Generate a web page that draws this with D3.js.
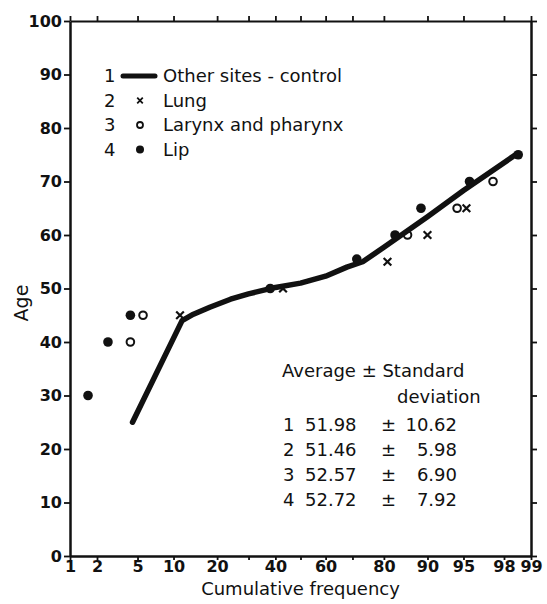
<!DOCTYPE html>
<html>
<head>
<meta charset="utf-8">
<script src="https://cdn.jsdelivr.net/npm/d3@7"></script>
<style>
  body { margin: 0; background: #fff; }
  text { font-family: "DejaVu Sans", sans-serif; fill: #111; }
</style>
</head>
<body>
<div id="chart"></div>
<script>
// cumulative frequency (%) ticks on a probability scale
const freqTicks = [1, 2, 5, 10, 20, 30, 40, 50, 60, 70, 80, 90, 95, 98, 99];
const freqLabels = ['1', '2', '5', '10', '20', '', '40', '', '60', '', '80', '90', '95', '98', '99'];
const ageTicks = [0, 10, 20, 30, 40, 50, 60, 70, 80, 90, 100];

// 1 - other sites (control), drawn as a line
const controlFreq = [4.5, 11.6, 14, 18, 24, 30, 40, 50, 60, 68, 73.5, 80, 90, 95, 98.5];
const controlAge = [25, 44, 45.2, 46.5, 48, 49, 50.2, 51, 52.3, 54, 55, 57.7, 63.4, 68.3, 75];
// 2 - lung
const lungFreq = [11.2, 43, 81, 90, 95.3];
const lungAge = [45, 50, 55, 60, 65];
// 3 - larynx and pharynx
const larynxFreq = [4.3, 5.6, 86, 94.3, 97.4];
const larynxAge = [40, 45, 60, 65, 70];
// 4 - lip
const lipFreq = [1.6, 2.6, 4.3, 38, 71.5, 83, 88.8, 95.6, 98.6];
const lipAge = [30, 40, 45, 50, 55.5, 60, 65, 70, 75];

const legendNames = ['Other sites - control', 'Lung', 'Larynx and pharynx', 'Lip'];
const statAvg = ['51.98', '51.46', '52.57', '52.72'];
const statSd = ['10.62', '5.98', '6.90', '7.92'];

const width = 547, height = 604;
const margin = { top: 21, right: 16, bottom: 48, left: 70 };

// inverse normal cdf (Acklam)
function probit(p) {
  const a = [-39.69683028665376, 220.9460984245205, -275.9285104469687, 138.3577518672690, -30.66479806614716, 2.506628277459239];
  const b = [-54.47609879822406, 161.5858368580409, -155.6989798598866, 66.80131188771972, -13.28068155288572];
  const c = [-0.007784894002430293, -0.3223964580411365, -2.400758277161838, -2.549732539343734, 4.374664141464968, 2.938163982698783];
  const d = [0.007784695709041462, 0.3224671290700398, 2.445134137142996, 3.754408661907416];
  const pl = 0.02425;
  let q, r;
  if (p < pl) {
    q = Math.sqrt(-2 * Math.log(p));
    return (((((c[0] * q + c[1]) * q + c[2]) * q + c[3]) * q + c[4]) * q + c[5]) /
      ((((d[0] * q + d[1]) * q + d[2]) * q + d[3]) * q + 1);
  }
  if (p > 1 - pl) {
    q = Math.sqrt(-2 * Math.log(1 - p));
    return -(((((c[0] * q + c[1]) * q + c[2]) * q + c[3]) * q + c[4]) * q + c[5]) /
      ((((d[0] * q + d[1]) * q + d[2]) * q + d[3]) * q + 1);
  }
  q = p - 0.5;
  r = q * q;
  return (((((a[0] * r + a[1]) * r + a[2]) * r + a[3]) * r + a[4]) * r + a[5]) * q /
    (((((b[0] * r + b[1]) * r + b[2]) * r + b[3]) * r + b[4]) * r + 1);
}
const z = f => probit(f / 100);

const svg = d3.select('#chart')
  .append('svg')
  .attr('width', width)
  .attr('height', height);

const x = d3.scaleLinear()
  .domain([z(1), z(99)])
  .range([margin.left, width - margin.right]);

const y = d3.scaleLinear()
  .domain([0, 100])
  .range([height - margin.bottom, margin.top]);

const fx = f => x(z(f));

// axes
const xTickVals = freqTicks.map(z);
const xFmt = (d, i) => freqLabels[i];

svg.append('g')
  .attr('class', 'axis')
  .attr('transform', 'translate(0,' + y(0) + ')')
  .call(d3.axisBottom(x).tickValues(xTickVals).tickFormat(xFmt).tickSize(4).tickSizeOuter(0).tickPadding(1))
  .call(g => g.select('.domain').attr('stroke-width', 2.5));

svg.append('g')
  .attr('class', 'axis')
  .attr('transform', 'translate(0,' + y(100) + ')')
  .call(d3.axisTop(x).tickValues(xTickVals).tickFormat('').tickSize(5).tickSizeOuter(0))
  .call(g => g.select('.domain').attr('stroke-width', 2));

svg.append('g')
  .attr('class', 'axis')
  .attr('transform', 'translate(' + x(z(1)) + ',0)')
  .call(d3.axisLeft(y).tickValues(ageTicks).tickSize(6).tickSizeOuter(0).tickPadding(2))
  .call(g => g.select('.domain').attr('stroke-width', 2.5));

svg.append('g')
  .attr('class', 'axis')
  .attr('transform', 'translate(' + x(z(99)) + ',0)')
  .call(d3.axisRight(y).tickValues(ageTicks).tickFormat('').tickSize(6).tickSizeOuter(0))
  .call(g => g.select('.domain').attr('stroke-width', 2.5));

svg.selectAll('.axis line').attr('stroke', '#111').attr('stroke-width', 1.8);
svg.selectAll('.axis path').attr('stroke', '#111');
svg.selectAll('.axis text')
  .style('font-size', '16px')
  .style('font-weight', 'bold')
  .attr('fill', '#111');

// axis titles
svg.append('text')
  .attr('x', (x(z(1)) + x(z(99))) / 2)
  .attr('y', 595)
  .attr('text-anchor', 'middle')
  .style('font-size', '18px')
  .text('Cumulative frequency');

svg.append('text')
  .attr('transform', 'translate(28,' + 303 + ') rotate(-90)')
  .attr('text-anchor', 'middle')
  .style('font-size', '19px')
  .text('Age');

// control line
const controlData = controlFreq.map((f, i) => [f, controlAge[i]]);
svg.append('path')
  .datum(controlData)
  .attr('fill', 'none')
  .attr('stroke', '#111')
  .attr('stroke-width', 5.5)
  .attr('stroke-linecap', 'round')
  .attr('stroke-linejoin', 'round')
  .attr('d', d3.line()
    .x(d => fx(d[0]))
    .y(d => y(d[1])));

// lip - filled dots
svg.append('g')
  .selectAll('circle')
  .data(lipFreq.map((f, i) => [f, lipAge[i]]))
  .join('circle')
  .attr('cx', d => fx(d[0]))
  .attr('cy', d => y(d[1]))
  .attr('r', 4.8)
  .attr('fill', '#111');

// larynx - open circles
svg.append('g')
  .selectAll('circle')
  .data(larynxFreq.map((f, i) => [f, larynxAge[i]]))
  .join('circle')
  .attr('cx', d => fx(d[0]))
  .attr('cy', d => y(d[1]))
  .attr('r', 3.8)
  .attr('fill', 'none')
  .attr('stroke', '#111')
  .attr('stroke-width', 2);

// lung - crosses
const cross = d3.symbol().type(d3.symbolX).size(40);
svg.append('g')
  .selectAll('path')
  .data(lungFreq.map((f, i) => [f, lungAge[i]]))
  .join('path')
  .attr('transform', d => 'translate(' + fx(d[0]) + ',' + y(d[1]) + ')')
  .attr('d', cross)
  .attr('fill', 'none')
  .attr('stroke', '#111')
  .attr('stroke-width', 2.2);

// legend
const legend = svg.append('g').style('font-size', '18px');
legendNames.forEach((name, i) => {
  const ly = 82 + i * 24.5;
  legend.append('text').attr('x', 104).attr('y', ly).text(i + 1);
  legend.append('text').attr('x', 163).attr('y', ly).text(name);
  const cy = ly - 6;
  if (i === 0) {
    legend.append('line')
      .attr('x1', 123).attr('x2', 155).attr('y1', cy).attr('y2', cy)
      .attr('stroke', '#111').attr('stroke-width', 5).attr('stroke-linecap', 'round');
  } else if (i === 1) {
    legend.append('path')
      .attr('transform', 'translate(140,' + cy + ')')
      .attr('d', d3.symbol().type(d3.symbolX).size(22))
      .attr('stroke', '#111').attr('stroke-width', 1.8).attr('fill', 'none');
  } else if (i === 2) {
    legend.append('circle').attr('cx', 140).attr('cy', cy).attr('r', 3)
      .attr('fill', 'none').attr('stroke', '#111').attr('stroke-width', 1.8);
  } else {
    legend.append('circle').attr('cx', 140).attr('cy', cy).attr('r', 4).attr('fill', '#111');
  }
});

// averages table
const stats = svg.append('g').style('font-size', '18px');
stats.append('text').attr('x', 282).attr('y', 377).text('Average \u00b1 Standard');
stats.append('text').attr('x', 397).attr('y', 403).text('deviation');
statAvg.forEach((avg, i) => {
  const sy = 431 + i * 25;
  stats.append('text').attr('x', 283).attr('y', sy).text(i + 1);
  stats.append('text').attr('x', 305).attr('y', sy).text(avg);
  stats.append('text').attr('x', 381).attr('y', sy).text('\u00b1');
  stats.append('text').attr('x', 457).attr('y', sy).attr('text-anchor', 'end').text(statSd[i]);
});
</script>
</body>
</html>
